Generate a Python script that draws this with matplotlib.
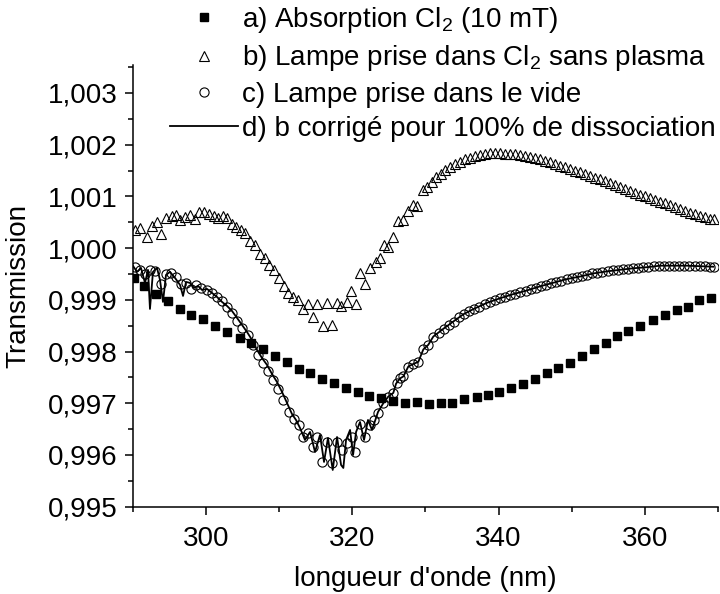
import matplotlib
matplotlib.use("Agg")
import matplotlib.pyplot as plt
from matplotlib.ticker import MultipleLocator, FuncFormatter
from matplotlib.lines import Line2D

plt.rcParams['font.family'] = ['Liberation Sans', 'DejaVu Sans']
plt.rcParams['mathtext.fontset'] = 'custom'
plt.rcParams['mathtext.rm'] = 'Liberation Sans'
plt.rcParams['mathtext.default'] = 'regular'

# a) Absorption Cl2 (filled squares)
a_x = [290.2, 291.5, 293.2, 294.8, 296.5, 298.0, 299.65, 301.3, 302.9, 304.6,
       306.2, 307.8, 309.4, 311.05, 312.7, 314.3, 315.9, 317.5, 319.2, 320.75,
       322.3, 323.9, 325.6, 327.2, 328.9, 330.5, 332.1, 333.7, 335.3, 337.0,
       338.5, 340.1, 341.75, 343.4, 345.0, 346.6, 348.15, 349.77, 351.45, 353.05,
       354.65, 356.2, 357.7, 359.4, 361.1, 362.7, 364.4, 365.9, 367.4, 369.0]
a_y = [0.99942, 0.99927, 0.99911, 0.99898, 0.99882, 0.99871, 0.99863, 0.99850, 0.99838, 0.99826,
       0.99816, 0.99805, 0.99792, 0.99780, 0.99766, 0.99758, 0.99746, 0.99739, 0.99730, 0.99721,
       0.99714, 0.99710, 0.99705, 0.99700, 0.99702, 0.99699, 0.99701, 0.99701, 0.99708, 0.99712,
       0.99715, 0.99721, 0.99730, 0.99737, 0.99746, 0.99759, 0.99768, 0.99777, 0.99792, 0.99804,
       0.99816, 0.99831, 0.99840, 0.99850, 0.99861, 0.99871, 0.99880, 0.99887, 0.99900, 0.99904]

# b) Lampe prise dans Cl2 sans plasma (open triangles)
b_x = [290.31, 291.0, 291.91, 292.6, 293.28, 293.87, 294.55, 295.33, 295.92, 296.47,
       297.15, 297.83, 298.52, 299.06, 299.75, 300.43, 301.11, 301.7, 302.38, 302.93,
       303.53, 304.12, 304.76, 305.35, 306.03, 306.71, 307.4, 308.08, 308.67, 309.31,
       310.04, 310.68, 311.27, 311.95, 312.64, 313.32, 314.0, 314.6, 315.23, 315.97,
       316.6, 317.2, 317.88, 318.47, 319.25, 319.84, 320.52, 321.07, 321.75, 322.44,
       323.26, 323.8, 324.35, 324.94, 325.62, 326.3, 326.99, 327.67, 328.27, 328.9,
       329.64, 330.19,
       330.87, 331.46, 332.1, 332.69, 333.37, 334.06, 334.74, 335.42, 336.11, 336.79,
       337.47, 338.16, 338.84, 339.52, 340.21, 340.89, 341.57, 342.26, 342.94, 343.62,
       344.31, 344.99, 345.67, 346.36, 347.04, 347.72, 348.41, 349.09, 349.77, 350.46,
       351.14, 351.82, 352.51, 353.19, 353.87, 354.56, 355.24, 355.92, 356.61, 357.29,
       357.97, 358.66, 359.34, 360.02, 360.71, 361.39, 362.07, 362.76, 363.44, 364.12,
       364.81, 365.49, 366.17, 366.86, 367.54, 368.22, 368.91, 369.45]
b_y = [1.000352, 1.000385, 1.000222, 1.000429, 1.000513, 1.000275, 1.000578, 1.000629, 1.000642, 1.000545,
       1.000609, 1.000642, 1.000559, 1.000694, 1.000706, 1.000661, 1.000629, 1.000578, 1.000623, 1.000578,
       1.000468, 1.000416, 1.000352, 1.000300, 1.000145, 1.000062, 0.999888, 0.999805, 0.999675, 0.999578,
       0.999418, 0.999269, 0.999128, 0.999050, 0.998998, 0.998818, 0.998921, 0.998675, 0.998921, 0.998495,
       0.998934, 0.998515, 0.998934, 0.998882, 0.998965, 0.999178, 0.998921, 0.999514, 0.999308, 0.999611,
       0.999739, 0.999805, 1.000062, 1.000029, 1.000211, 1.000532, 1.000545, 1.000725, 1.000836, 1.000816,
       1.001126, 1.001178,
       1.001286, 1.001371, 1.001435, 1.001513, 1.001576, 1.001629, 1.001673, 1.001720, 1.001750, 1.001783,
       1.001803, 1.001822, 1.001836, 1.001836, 1.001836, 1.001828, 1.001822, 1.001816, 1.001803, 1.001783,
       1.001764, 1.001739, 1.001720, 1.001692, 1.001662, 1.001629, 1.001596, 1.001565, 1.001532, 1.001499,
       1.001468, 1.001435, 1.001397, 1.001364, 1.001333, 1.001294, 1.001255, 1.001222, 1.001190, 1.001151,
       1.001112, 1.001074, 1.001035, 1.001004, 1.000971, 1.000932, 1.000899, 1.000868, 1.000830, 1.000797,
       1.000758, 1.000725, 1.000687, 1.000656, 1.000623, 1.000598, 1.000571, 1.000565]

# c) Lampe prise dans le vide (open circles)
c_x = [290.3, 291.0, 291.7, 292.4, 293.1, 293.8, 294.5, 295.2, 295.9, 296.6,
       297.3, 298.0, 298.7, 299.4, 300.1, 300.8, 301.5, 302.2, 302.9, 303.6,
       304.3, 305.0, 305.7, 306.4, 307.1, 307.8, 308.5, 309.2, 309.9, 310.6,
       311.3, 312.0, 312.7, 313.24, 314.0, 314.6, 315.15, 315.83, 316.52, 317.2,
       317.88, 318.57, 319.25, 319.93, 320.39, 321.07, 321.75, 322.44, 323.0, 323.57,
       324.25, 324.94, 325.62, 326.1, 326.54, 326.99, 327.67, 328.35, 329.04, 329.72,
       330.4, 331.1, 331.8, 332.5, 333.2, 333.9, 334.6, 335.3, 336.0, 336.7,
       337.4, 338.1, 338.8, 339.5, 340.2, 340.9, 341.6, 342.3, 343.0, 343.7,
       344.4, 345.1, 345.8, 346.5, 347.2, 347.9, 348.6, 349.3, 350.0, 350.7,
       351.4, 352.1, 352.8, 353.5, 354.2, 354.9, 355.6, 356.3, 357.0, 357.7,
       358.4, 359.1, 359.8, 360.5, 361.2, 361.9, 362.6, 363.3, 364.0, 364.7,
       365.4, 366.1, 366.8, 367.5, 368.2, 368.9, 369.5]
c_y = [0.99964, 0.99958, 0.99950, 0.99957, 0.99955, 0.99930, 0.99950, 0.99951, 0.99944, 0.99930,
       0.99932, 0.99920, 0.99928, 0.99922, 0.99919, 0.99914, 0.99905, 0.99897, 0.99887, 0.99875,
       0.99860, 0.99846, 0.99832, 0.99812, 0.99793, 0.99778, 0.99762, 0.99745, 0.99727, 0.99707,
       0.99684, 0.99670, 0.99657, 0.99635, 0.99643, 0.99616, 0.99635, 0.99587, 0.99626, 0.99584,
       0.99626, 0.99610, 0.99623, 0.99635, 0.99606, 0.99660, 0.99635, 0.99658, 0.99668, 0.99681,
       0.99700, 0.99713, 0.99720, 0.99740, 0.99748, 0.99752, 0.99771, 0.99776, 0.99780, 0.99804,
       0.99813, 0.99829, 0.99836, 0.99844, 0.99851, 0.99858, 0.99866, 0.99872, 0.99878, 0.99883,
       0.99887, 0.99892, 0.99896, 0.99900, 0.99903, 0.99906, 0.99909, 0.99912, 0.99915, 0.99918,
       0.99921, 0.99923, 0.99926, 0.99929, 0.99932, 0.99934, 0.99937, 0.99940, 0.99942, 0.99944,
       0.99946, 0.99948, 0.99951, 0.99952, 0.99954, 0.99955, 0.99957, 0.99958, 0.99959, 0.99960,
       0.99961, 0.99962, 0.99963, 0.99963, 0.99965, 0.99966, 0.99966, 0.99966, 0.99966, 0.99966,
       0.99966, 0.99966, 0.99966, 0.99965, 0.99965, 0.99964, 0.99964]

# d) b corrigé pour 100% de dissociation (solid line)
d_x = [290.04, 290.59, 291.13, 291.68, 292.09, 292.36, 292.77, 293.32, 293.73, 294.14,
       294.55, 295.1, 295.78, 296.47, 296.88, 297.29, 297.83, 298.38, 298.93, 299.47,
       300.16, 300.84, 301.52, 302.21, 302.89, 303.57, 304.26, 304.94, 305.62, 306.31,
       306.99, 307.67, 308.36, 309.04, 309.72, 310.41, 311.09, 311.77, 312.32, 312.87,
       313.55, 314.24, 314.92, 315.6, 316.15, 316.69, 317.34, 317.93, 318.48, 318.79,
       319.16, 319.71, 320.12, 320.53, 321.07, 321.62, 322.16, 322.71, 323.53, 324.25,
       324.94, 325.62, 326.0, 326.54, 327.0, 327.67, 328.35, 329.04, 329.72, 330.4,
       331.09, 332.46, 333.82, 335.19, 336.56, 338.39, 340.21, 342.02, 343.86, 345.67,
       347.49, 349.32, 351.14, 352.96, 354.79, 356.61, 358.43, 360.26, 362.08, 363.89,
       365.72, 367.54, 369.36]
d_y = [0.999656, 0.999540, 0.999617, 0.999327, 0.999578, 0.998824, 0.999540, 0.999617, 0.999385, 0.998959,
       0.999482, 0.999540, 0.999424, 0.999288, 0.999075, 0.999346, 0.999327, 0.999230, 0.999269, 0.999191,
       0.999211, 0.999133, 0.999056, 0.998959, 0.998882, 0.998785, 0.998650, 0.998515, 0.998379, 0.998224,
       0.998031, 0.997876, 0.997741, 0.997567, 0.997412, 0.997219, 0.997006, 0.996793, 0.996677, 0.996522,
       0.996290, 0.996445, 0.996058, 0.996387, 0.995865, 0.996329, 0.995710, 0.996348, 0.995807, 0.995749,
       0.996290, 0.996484, 0.996000, 0.996445, 0.996638, 0.996290, 0.996677, 0.996484, 0.996832, 0.997000,
       0.997130, 0.997200, 0.997380, 0.997480, 0.997520, 0.997710, 0.997760, 0.997800, 0.998040, 0.998130,
       0.998290, 0.998440, 0.998580, 0.998720, 0.998820, 0.998940, 0.999030, 0.999110, 0.999180, 0.999260,
       0.999330, 0.999400, 0.999450, 0.999510, 0.999550, 0.999580, 0.999610, 0.999630, 0.999660, 0.999660,
       0.999660, 0.999650, 0.999640]

labels = ["a) Absorption Cl$_2$ (10 mT)",
          "b) Lampe prise dans Cl$_2$ sans plasma",
          "c) Lampe prise dans le vide",
          "d) b corrigé pour 100% de dissociation"]

W, H = 720, 594
fig = plt.figure(figsize=(7.2, 5.94), dpi=100)
ax = fig.add_axes([132.7 / W, 1 - 506.7 / H, (718 - 132.7) / W, (506.7 - 65) / H])

ax.plot(c_x, c_y, linestyle='none', marker='o', ms=6.6, mfc='none', mec='black', mew=0.8, zorder=2)
ax.plot(b_x, b_y, linestyle='none', marker='^', ms=7.4, mfc='none', mec='black', mew=0.8, zorder=2)
ax.plot(d_x, d_y, color='black', lw=1.3, zorder=3)
ax.plot(a_x, a_y, linestyle='none', marker='s', ms=6.0, mfc='black', mec='black', zorder=4)

ax.set_xlim(290, 370)
ax.set_ylim(0.995, 1.00354)
ax.xaxis.set_major_locator(MultipleLocator(20))
ax.xaxis.set_minor_locator(MultipleLocator(10))
ax.yaxis.set_major_locator(MultipleLocator(0.001))
ax.yaxis.set_minor_locator(MultipleLocator(0.0005))
ax.yaxis.set_major_formatter(FuncFormatter(lambda v, p: f"{v:.3f}".replace('.', ',')))
ax.xaxis.set_major_formatter(FuncFormatter(lambda v, p: f"{v:.0f}"))

for s in ['top', 'right']:
    ax.spines[s].set_visible(False)
for s in ['left', 'bottom']:
    ax.spines[s].set_linewidth(1.1)
ax.tick_params(which='major', direction='out', length=6, width=1.1, labelsize=20, pad=5)
ax.tick_params(axis='x', which='major', pad=8)
ax.tick_params(which='minor', direction='out', length=3.5, width=1.1)

ax.set_xlabel("longueur d'onde (nm)", fontsize=20, labelpad=10)
ax.set_ylabel("Transmission", fontsize=20, labelpad=12)

handles = [
    Line2D([], [], linestyle='none', marker='s', ms=6.0, mfc='black', mec='black'),
    Line2D([], [], linestyle='none', marker='^', ms=7.4, mfc='none', mec='black', mew=0.8),
    Line2D([], [], linestyle='none', marker='o', ms=6.6, mfc='none', mec='black', mew=0.8),
    Line2D([], [], color='black', lw=1.3),
]
fig.legend(handles, labels, loc='upper left', bbox_to_anchor=(170 / W, 1 - 5 / H),
           bbox_transform=fig.transFigure, frameon=False, fontsize=20,
           borderpad=0, borderaxespad=0, handlelength=2.45, handletextpad=0.15,
           labelspacing=0.3, numpoints=1)

fig.savefig("out.png", dpi=100)
